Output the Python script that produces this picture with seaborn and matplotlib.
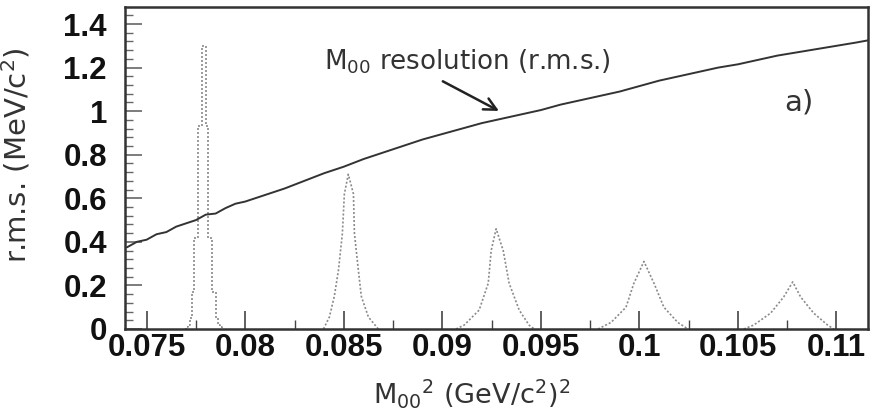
import numpy as np
import pandas as pd
import matplotlib
matplotlib.use("Agg")
import matplotlib.pyplot as plt
import seaborn as sns

# ---- data ----
rms_x = [0.0740, 0.0745, 0.0750, 0.0755, 0.0760, 0.0765, 0.0770, 0.0775, 0.0780,
         0.0785, 0.0790, 0.0795, 0.0800, 0.0810, 0.0820, 0.0830, 0.0840, 0.0850,
         0.0860, 0.0870, 0.0880, 0.0890, 0.0900, 0.0910, 0.0920, 0.0930, 0.0940,
         0.0950, 0.0960, 0.0970, 0.0980, 0.0990, 0.1000, 0.1010, 0.1020, 0.1030,
         0.1040, 0.1050, 0.1060, 0.1070, 0.1080, 0.1090, 0.1100, 0.1110, 0.1116]
rms_y = [0.375, 0.400, 0.410, 0.435, 0.445, 0.470, 0.485, 0.500, 0.525,
         0.530, 0.555, 0.575, 0.585, 0.615, 0.645, 0.680, 0.715, 0.745,
         0.780, 0.810, 0.840, 0.870, 0.895, 0.920, 0.945, 0.965, 0.985,
         1.005, 1.030, 1.050, 1.070, 1.090, 1.115, 1.140, 1.160, 1.180,
         1.200, 1.215, 1.235, 1.255, 1.270, 1.285, 1.300, 1.315, 1.325]

# first peak: narrow histogram (bin centres, contents)
p1_x = [0.07695, 0.07705, 0.07715, 0.07725, 0.07735, 0.07745, 0.07755, 0.07765, 0.07775,
        0.07785, 0.07795, 0.07805, 0.07815, 0.07825, 0.07835, 0.07845, 0.07855,
        0.07865, 0.07875, 0.07885]
p1_y = [0.0, 0.01, 0.02, 0.05, 0.17, 0.42, 0.42, 0.93, 0.93,
        1.30, 1.30, 0.93, 0.42, 0.42, 0.17, 0.17, 0.05,
        0.02, 0.01, 0.0]

p2_x = [0.08397, 0.08427, 0.08452, 0.08473, 0.08493, 0.08503, 0.08523,
        0.08549, 0.08554, 0.08574, 0.08589, 0.08625, 0.08675]
p2_y = [0.0, 0.055, 0.15, 0.27, 0.44, 0.62, 0.71, 0.62, 0.44, 0.27, 0.15, 0.055, 0.0]

p3_x = [0.09070, 0.09111, 0.09187, 0.09233, 0.09248, 0.09273,
        0.09309, 0.09339, 0.09390, 0.09440, 0.09466]
p3_y = [0.0, 0.018, 0.087, 0.21, 0.36, 0.46, 0.36, 0.21, 0.087, 0.018, 0.0]

p4_x = [0.09790, 0.09856, 0.09932, 0.09972, 0.10023, 0.10074, 0.10124, 0.10195, 0.10246]
p4_y = [0.0, 0.03, 0.10, 0.21, 0.31, 0.21, 0.10, 0.03, 0.0]

p5_x = [0.10530, 0.10580, 0.10666, 0.10732, 0.10778, 0.10818, 0.10884, 0.10955, 0.10986]
p5_y = [0.0, 0.018, 0.073, 0.147, 0.216, 0.147, 0.073, 0.018, 0.0]

x_ticks = [0.075, 0.08, 0.085, 0.09, 0.095, 0.1, 0.105, 0.11]
x_ticklabels = ["0.075", "0.08", "0.085", "0.09", "0.095", "0.1", "0.105", "0.11"]
y_ticks = [0, 0.2, 0.4, 0.6, 0.8, 1.0, 1.2, 1.4]
y_ticklabels = ["0", "0.2", "0.4", "0.6", "0.8", "1", "1.2", "1.4"]

# ---- figure ----
sns.set_theme(style="white")
plt.rcParams["font.family"] = ["Liberation Sans", "DejaVu Sans"]
plt.rcParams["mathtext.fontset"] = "dejavusans"

fig = plt.figure(figsize=(8.76, 4.13), dpi=100)
ax = fig.add_axes([0.1427, 0.2034, 0.9909 - 0.1427, 0.983 - 0.2034])

peak_color = "#8a8a8a"
sns.lineplot(x=p1_x, y=p1_y, ax=ax, estimator=None, sort=False, drawstyle="steps-mid",
             color=peak_color, linestyle=(0, (1.2, 1.2)), linewidth=1.2)
for px, py in [(p2_x, p2_y), (p3_x, p3_y), (p4_x, p4_y), (p5_x, p5_y)]:
    sns.lineplot(x=px, y=py, ax=ax, estimator=None, sort=False,
                 color=peak_color, linestyle=(0, (1.2, 1.2)), linewidth=1.2)

sns.lineplot(x=rms_x, y=rms_y, ax=ax, estimator=None, sort=False,
             color="#333333", linewidth=1.4)

ax.set_xlim(0.0739, 0.1116)
ax.set_ylim(0, 1.478)

ax.set_xticks(x_ticks)
ax.set_xticklabels(x_ticklabels, fontsize=22.5, fontweight="bold")
ax.set_yticks(y_ticks)
ax.set_yticklabels(y_ticklabels, fontsize=22.5, fontweight="bold")
ax.set_xticks(np.arange(0.0750, 0.1116, 0.0025), minor=True)
ax.set_yticks(np.arange(0, 1.478, 0.04), minor=True)

ax.tick_params(axis="x", which="major", direction="in", length=13, width=1.2,
               color="#444444", pad=3, labelcolor="#111111")
ax.tick_params(axis="x", which="minor", direction="in", length=6.5, width=1.0,
               color="#444444")
ax.tick_params(axis="y", which="major", direction="in", length=12, width=1.2,
               color="#666666", pad=13, labelcolor="#111111")
ax.tick_params(axis="y", which="minor", direction="in", length=6, width=1.0,
               color="#666666")
ax.tick_params(bottom=True, left=True, which="both")

for s in ax.spines.values():
    s.set_linewidth(1.8)
    s.set_color("#333333")

ax.set_xlabel(r"M$_{00}$$^{2}$ (GeV/c$^{2}$)$^{2}$", fontsize=19.5, color="#333333",
              family="DejaVu Sans")
ax.xaxis.set_label_coords(0.466, -0.15)
ax.set_ylabel(r"r.m.s. (MeV/c$^{2}$)", fontsize=21, color="#333333",
              family="DejaVu Sans")
ax.yaxis.set_label_coords(-0.125, 0.54)

ax.text(0.0840, 1.225, r"M$_{00}$ resolution (r.m.s.)", fontsize=18.8,
        color="#333333", va="center", ha="left", family="DejaVu Sans")
ax.annotate("", xy=(0.0930, 0.995), xytext=(0.0899, 1.143),
            arrowprops=dict(arrowstyle="->", color="#222222", lw=1.8,
                            mutation_scale=22))
ax.text(0.1081, 1.04, "a)", fontsize=21, color="#333333", ha="center", va="center",
        family="DejaVu Sans")

fig.savefig("out.png", dpi=100)
